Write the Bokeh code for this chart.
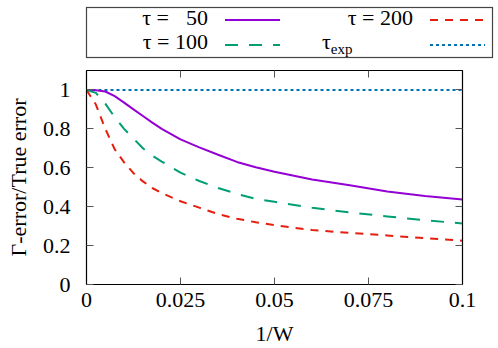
from bokeh.plotting import figure
from bokeh.layouts import column
from bokeh.models import Range1d, LinearAxis, FixedTicker, Div
from bokeh.embed import file_html
from bokeh.resources import INLINE

# ---- data ----
inv_w = [0.0, 0.0025, 0.005, 0.0075, 0.01, 0.0125, 0.015, 0.0175, 0.02, 0.025,
         0.03, 0.035, 0.04, 0.045, 0.05, 0.06, 0.07, 0.08, 0.09, 0.1]
tau50 = [1.0, 0.999, 0.992, 0.968, 0.935, 0.9, 0.866, 0.832, 0.8, 0.746,
         0.705, 0.667, 0.63, 0.603, 0.58, 0.54, 0.51, 0.478, 0.455, 0.437]
tau100 = [1.0, 0.985, 0.93, 0.86, 0.80, 0.75, 0.70, 0.662, 0.632, 0.575,
          0.532, 0.496, 0.466, 0.44, 0.425, 0.395, 0.37, 0.35, 0.33, 0.314]
tau200 = [1.0, 0.925, 0.80, 0.695, 0.628, 0.572, 0.53, 0.496, 0.47, 0.428,
          0.395, 0.362, 0.338, 0.32, 0.305, 0.28, 0.265, 0.252, 0.238, 0.225]
tauexp = [1.0] * len(inv_w)

x_ticks = [0.0, 0.025, 0.05, 0.075, 0.1]
x_tick_labels = ["0", "0.025", "0.05", "0.075", "0.1"]
y_ticks = [0.0, 0.2, 0.4, 0.6, 0.8, 1.0]
y_tick_labels = ["0", "0.2", "0.4", "0.6", "0.8", "1"]

tau_values = ["50", "100", "200"]
colors = {"50": "#9400d3", "100": "#009e73", "200": "#e51e10", "exp": "#0072b2"}
dashes = {"50": "solid", "100": "13 11", "200": "8 7", "exp": "3 3"}

FONT = "'Liberation Serif', 'Times New Roman', serif"
FS = "22px"

# ---- gnuplot-style key (text, then line sample) above the plot ----
def sample(x0, x1, y, key):
    dash = "" if dashes[key] == "solid" else f' stroke-dasharray="{dashes[key]}"'
    return (f'<line x1="{x0}" y1="{y}" x2="{x1}" y2="{y}" stroke="{colors[key]}" '
            f'stroke-width="2"{dash}/>')

key_svg = (
    '<svg xmlns="http://www.w3.org/2000/svg" width="498" height="60" '
    'style="display:block">'
    '<rect x="86.5" y="7.5" width="406" height="50" fill="none" '
    'stroke="#444444" stroke-width="1.2"/>'
    f'<g style="font-family: {FONT}; font-size: 22px" fill="black">'
    '<text x="169" y="25" text-anchor="end">τ =</text>'
    f'<text x="208" y="25" text-anchor="end">{tau_values[0]}</text>'
    f'<text x="208" y="49" text-anchor="end">τ = {tau_values[1]}</text>'
    f'<text x="413" y="25" text-anchor="end">τ = {tau_values[2]}</text>'
    '<text x="322" y="49">τ<tspan style="font-size: 15px" dy="5">exp</tspan></text>'
    '</g>'
    + sample(225, 280, 20, "50")
    + sample(430, 485, 20, "200")
    + sample(225, 280, 45, "100")
    + sample(430, 485, 45, "exp")
    + '</svg>'
)
key_div = Div(text=key_svg, width=498, height=60, margin=0)

# ---- main plot ----
p = figure(width=498, height=288, x_range=Range1d(0, 0.1),
           y_range=Range1d(0, 1.1), output_backend="svg",
           toolbar_location=None, frame_width=376, frame_height=214,
           min_border_left=86, min_border_right=36, min_border_top=10,
           min_border_bottom=64, outline_line_color="black",
           outline_line_width=1.2)
p.grid.visible = False

p.line(inv_w, tauexp, line_color=colors["exp"], line_dash=dashes["exp"], line_width=2)
p.line(inv_w, tau50, line_color=colors["50"], line_dash=dashes["50"], line_width=2)
p.line(inv_w, tau100, line_color=colors["100"], line_dash=dashes["100"], line_width=2)
p.line(inv_w, tau200, line_color=colors["200"], line_dash=dashes["200"], line_width=2)

xa = p.xaxis[0]
ya = p.yaxis[0]
xa.ticker = FixedTicker(ticks=x_ticks)
xa.major_label_overrides = dict(zip(x_ticks, x_tick_labels))
ya.ticker = FixedTicker(ticks=y_ticks)
ya.major_label_overrides = dict(zip(y_ticks, y_tick_labels))
xa.axis_label = "1/W"
ya.axis_label = "Γ-error/True error"

for ax in (xa, ya):
    ax.major_tick_in = 7
    ax.major_tick_out = 0
    ax.minor_tick_line_color = None
    ax.axis_line_color = "black"
    ax.major_tick_line_color = "#555555"
    ax.major_label_text_font = FONT
    ax.major_label_text_font_size = FS
    ax.major_label_text_color = "black"
    ax.axis_label_text_font = FONT
    ax.axis_label_text_font_size = FS
    ax.axis_label_text_font_style = "normal"
    ax.axis_label_text_color = "black"
xa.major_label_standoff = 8
ya.major_label_standoff = 16
xa.axis_label_standoff = 11
ya.axis_label_standoff = 9

top_ax = LinearAxis(ticker=FixedTicker(ticks=x_ticks),
                    major_label_overrides={t: "" for t in x_ticks})
right_ax = LinearAxis(ticker=FixedTicker(ticks=y_ticks),
                      major_label_overrides={t: "" for t in y_ticks})
for ax in (top_ax, right_ax):
    ax.major_tick_in = 7
    ax.major_tick_out = 0
    ax.minor_tick_line_color = None
    ax.axis_line_color = "black"
    ax.major_tick_line_color = "#555555"
    ax.major_label_text_font_size = "1px"
    ax.major_label_standoff = 0
p.add_layout(top_ax, "above")
p.add_layout(right_ax, "right")

layout = column(key_div, p, spacing=0)
open("out.html", "w").write(file_html(layout, INLINE))
